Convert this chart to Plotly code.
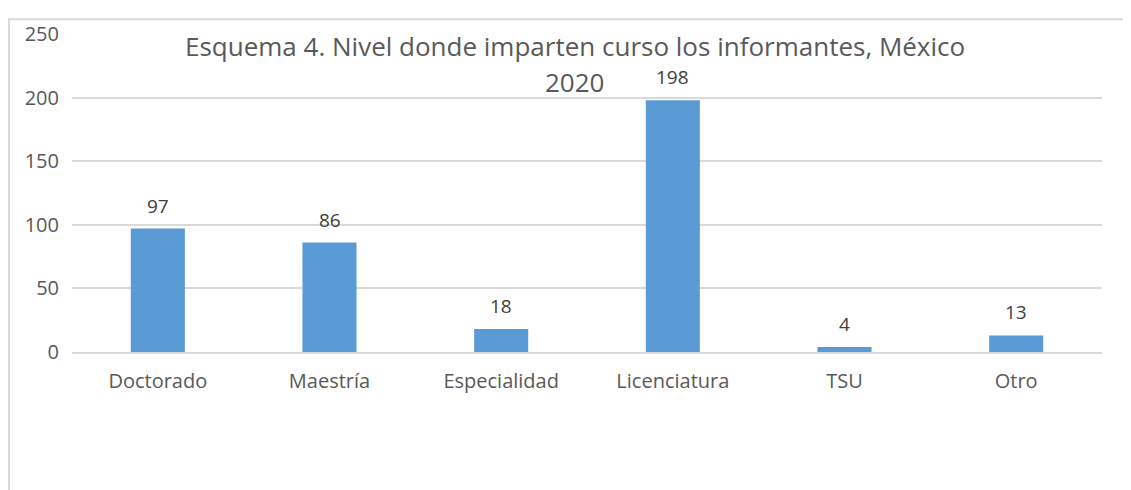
import plotly.graph_objects as go

categorias = ['Doctorado', 'Maestría', 'Especialidad', 'Licenciatura', 'TSU', 'Otro']
valores = [97, 86, 18, 198, 4, 13]
y_ticks = [0, 50, 100, 150, 200, 250]
titulo = ['Esquema 4. Nivel donde imparten curso los informantes, México', '2020']

bar_color = '#5b9bd5'
text_color = '#595959'
grid_color = '#d9d9d9'
font_family = 'Open Sans, Noto Sans, sans-serif'

fig = go.Figure()
fig.add_trace(go.Bar(
    x=categorias,
    y=valores,
    marker=dict(color=bar_color, line=dict(width=0)),
    cliponaxis=False,
))

# data labels above each bar
for cat, val in zip(categorias, valores):
    fig.add_annotation(
        x=cat, y=val, text=str(val), showarrow=False,
        yanchor='bottom', yshift=8,
        font=dict(size=19, color='#404040', family=font_family),
    )

# page body has an 8px margin, so the figure is sized to fit
fig.update_layout(
    width=1123, height=482,
    margin=dict(l=64, r=29, t=18, b=138),
    paper_bgcolor='white',
    plot_bgcolor='white',
    bargap=0.685,
    showlegend=False,
    font=dict(family=font_family, color=text_color, size=20),
)

fig.update_yaxes(
    range=[0, 250],
    tickvals=y_ticks,
    showgrid=True, gridcolor=grid_color, gridwidth=1.5,
    zeroline=False,
    showline=False,
    ticks='',
    ticklabelstandoff=12,
    tickfont=dict(size=20, color=text_color),
)
fig.update_xaxes(
    showline=True, linecolor=grid_color, linewidth=2,
    ticks='',
    ticklabelstandoff=10,
    tickfont=dict(size=20, color=text_color),
)

# title sits over the plot area, like the original (two separate lines)
for linea, ypos in zip(titulo, [0.962, 0.85]):
    fig.add_annotation(
        text=linea,
        xref='paper', yref='paper', x=0.488, y=ypos,
        xanchor='center', yanchor='middle', showarrow=False,
        font=dict(size=26, color=text_color, family=font_family),
    )

# chart border (partially visible)
fig.add_shape(type='rect', xref='paper', yref='paper',
              x0=-0.0612, x1=1.05, y0=-0.6, y1=1.046,
              line=dict(color=grid_color, width=2), layer='below')

fig.write_html('out.html')
